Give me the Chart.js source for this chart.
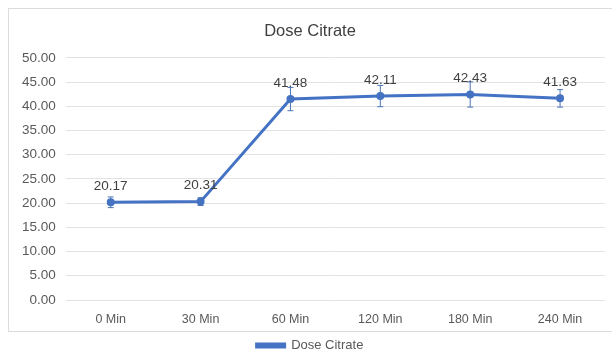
<!DOCTYPE html>
<html><head><meta charset="utf-8">
<script src="https://cdn.jsdelivr.net/npm/chart.js@4/dist/chart.umd.min.js"></script>
<style>
html,body{margin:0;padding:0;background:#fff;}
#wrap{position:absolute;left:0;top:0;width:612px;height:364px;}
#frame{position:absolute;left:8px;top:8px;width:610px;height:324px;border:1px solid #dcdcdc;box-sizing:border-box;}
</style></head>
<body>
<div id="frame"></div>
<div id="wrap"><canvas id="c" width="612" height="364"></canvas></div>
<script>
const categories = ["0 Min","30 Min","60 Min","120 Min","180 Min","240 Min"];
const values = [20.17, 20.31, 41.48, 42.11, 42.43, 41.63];
const errors = [1.1, 0.8, 2.4, 2.2, 2.6, 1.8];
const seriesName = "Dose Citrate";
const FONT = "'Liberation Sans', Arial, sans-serif";

const overlay = {
  id:'overlay',
  afterDatasetsDraw(chart){
    const ctx = chart.ctx, x = chart.scales.x, y = chart.scales.y;
    ctx.save();
    ctx.strokeStyle = '#4a74b8'; ctx.lineWidth = 1;
    values.forEach((v,i)=>{
      const px = x.getPixelForValue(i);
      const t = y.getPixelForValue(v+errors[i]), b = y.getPixelForValue(v-errors[i]);
      ctx.beginPath();
      ctx.moveTo(px,t); ctx.lineTo(px,b);
      ctx.moveTo(px-3,t); ctx.lineTo(px+3,t);
      ctx.moveTo(px-3,b); ctx.lineTo(px+3,b);
      ctx.stroke();
    });
    ctx.fillStyle = '#404040';
    ctx.font = '13.5px ' + FONT;
    ctx.textAlign='center'; ctx.textBaseline='middle';
    values.forEach((v,i)=>{
      const px = x.getPixelForValue(i), py = y.getPixelForValue(v);
      ctx.fillText(v.toFixed(2), px, py-16);
    });
    ctx.restore();
  }
};

new Chart(document.getElementById('c'), {
  type:'line',
  data:{labels:categories, datasets:[{
    label:seriesName, data:values,
    borderColor:'#4472c4', backgroundColor:'#4472c4',
    borderWidth:3, pointRadius:2.5, pointBackgroundColor:'#4472c4',
    pointBorderColor:'#4472c4', tension:0
  }]},
  options:{
    responsive:false, animation:false, devicePixelRatio:1,
    layout:{padding:{left:12,right:4,top:22,bottom:2}},
    plugins:{
      title:{display:true,text:'Dose Citrate',color:'#404040',
        font:{family:FONT,size:16.5,weight:'normal'},padding:{top:0,bottom:16}},
      legend:{position:'bottom',labels:{color:'#595959',font:{family:FONT,size:13},
        boxWidth:28,boxHeight:3,padding:8}},
      tooltip:{enabled:false}
    },
    scales:{
      x:{offset:true,grid:{display:false},border:{display:false},
        ticks:{color:'#595959',font:{family:FONT,size:12.5},padding:4}},
      y:{min:0,max:50,
        ticks:{stepSize:5,color:'#595959',font:{family:FONT,size:13.5},padding:10,
          callback:v=>Number(v).toFixed(2)},
        grid:{color:'#e3e3e3',drawTicks:false},border:{display:false}}
    }
  },
  plugins:[overlay]
});
</script>
</body></html>
